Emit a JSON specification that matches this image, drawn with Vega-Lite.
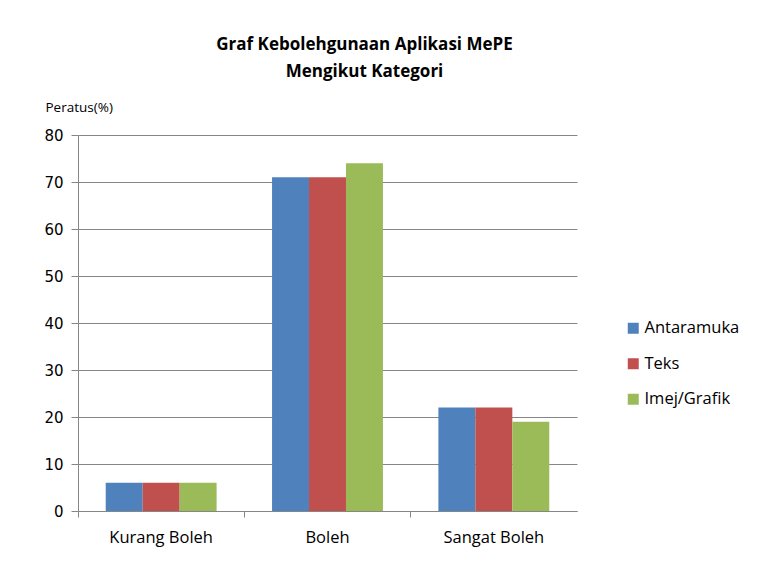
{
  "$schema": "https://vega.github.io/schema/vega-lite/v6.json",
  "width": 499,
  "height": 376,
  "autosize": "none",
  "padding": {"left": 78, "top": 135, "right": 185, "bottom": 55},
  "background": "white",
  "title": {
    "text": ["Graf Kebolehgunaan Aplikasi MePE", "Mengikut Kategori"],
    "anchor": "middle",
    "frame": "group",
    "dx": 37,
    "offset": 19,
    "font": "Open Sans",
    "fontSize": 17,
    "fontWeight": "bold",
    "color": "#000000",
    "lineHeight": 27
  },
  "data": {
    "values": [
      {"kategori": "Kurang Boleh", "jenis": "Antaramuka", "nilai": 6},
      {"kategori": "Kurang Boleh", "jenis": "Teks", "nilai": 6},
      {"kategori": "Kurang Boleh", "jenis": "Imej/Grafik", "nilai": 6},
      {"kategori": "Boleh", "jenis": "Antaramuka", "nilai": 71},
      {"kategori": "Boleh", "jenis": "Teks", "nilai": 71},
      {"kategori": "Boleh", "jenis": "Imej/Grafik", "nilai": 74},
      {"kategori": "Sangat Boleh", "jenis": "Antaramuka", "nilai": 22},
      {"kategori": "Sangat Boleh", "jenis": "Teks", "nilai": 22},
      {"kategori": "Sangat Boleh", "jenis": "Imej/Grafik", "nilai": 19}
    ]
  },
  "mark": {"type": "bar"},
  "encoding": {
    "x": {
      "field": "kategori",
      "type": "nominal",
      "sort": ["Kurang Boleh", "Boleh", "Sangat Boleh"],
      "scale": {"paddingInner": 0, "paddingOuter": 0},
      "axis": {
        "title": null,
        "labelAngle": 0,
        "labelFont": "Open Sans",
        "labelFontSize": 16.5,
        "labelColor": "#000000",
        "labelPadding": 12,
        "domainColor": "#868686",
        "tickColor": "#868686",
        "tickSize": 6,
        "bandPosition": 0,
        "grid": false
      }
    },
    "xOffset": {
      "field": "jenis",
      "type": "nominal",
      "sort": ["Antaramuka", "Teks", "Imej/Grafik"],
      "scale": {"paddingInner": 0, "paddingOuter": 0.75}
    },
    "y": {
      "field": "nilai",
      "type": "quantitative",
      "scale": {"domain": [0, 80], "nice": false},
      "axis": {
        "title": "Peratus(%)",
        "titleAngle": 0,
        "titleX": -33,
        "titleY": -28,
        "titleAlign": "left",
        "titleBaseline": "middle",
        "titleFont": "Open Sans",
        "titleFontSize": 13.5,
        "titleFontWeight": "normal",
        "titleColor": "#000000",
        "values": [0, 10, 20, 30, 40, 50, 60, 70, 80],
        "labelFont": "DejaVu Sans",
        "labelFontSize": 15,
        "labelColor": "#000000",
        "labelPadding": 8,
        "domainColor": "#868686",
        "tickColor": "#868686",
        "tickSize": 7,
        "gridColor": "#868686",
        "gridWidth": 1
      }
    },
    "color": {
      "field": "jenis",
      "type": "nominal",
      "sort": ["Antaramuka", "Teks", "Imej/Grafik"],
      "scale": {
        "domain": ["Antaramuka", "Teks", "Imej/Grafik"],
        "range": ["#4F81BD", "#C0504D", "#9BBB59"]
      },
      "legend": {
        "title": null,
        "orient": "none",
        "legendX": 547,
        "legendY": 185,
        "symbolType": "square",
        "symbolSize": 121,
        "symbolStrokeWidth": 0,
        "labelFont": "Open Sans",
        "labelFontSize": 16.5,
        "labelColor": "#000000",
        "labelOffset": 3,
        "rowPadding": 18.5
      }
    }
  },
  "config": {
    "view": {"stroke": null}
  }
}
